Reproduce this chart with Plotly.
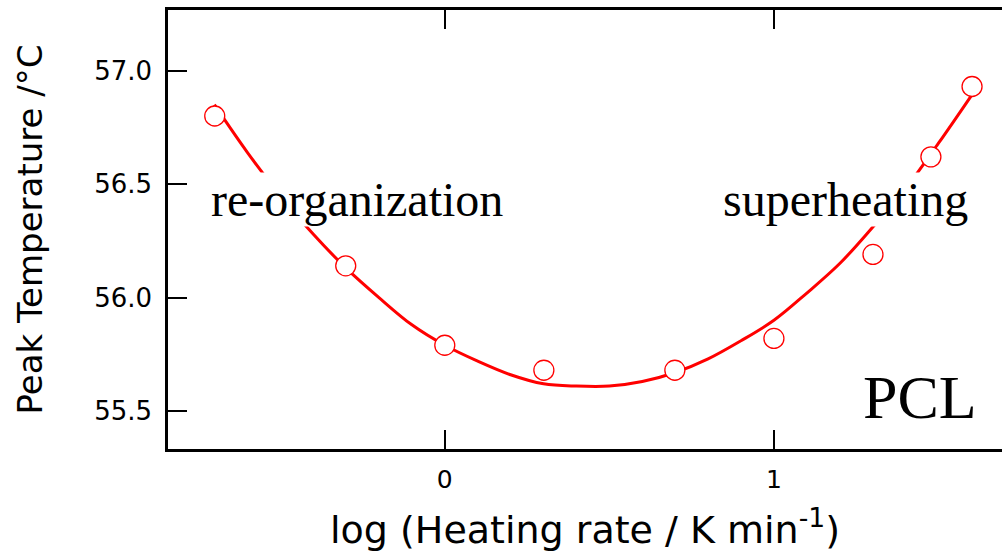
import plotly.graph_objects as go

# measured points: log10(heating rate) vs peak temperature
log_rate = [-0.699, -0.301, 0.0, 0.301, 0.699, 1.0, 1.301, 1.477, 1.602]
peak_temp = [56.80, 56.14, 55.79, 55.68, 55.68, 55.82, 56.19, 56.62, 56.93]

# fitted curve
fit_x = [-0.70, -0.60, -0.50, -0.40, -0.30, -0.20, -0.10, 0.00, 0.10, 0.20, 0.30, 0.40,
         0.50, 0.60, 0.70, 0.80, 0.90, 1.00, 1.10, 1.20, 1.30, 1.40, 1.50, 1.60]
fit_y = [56.85, 56.64, 56.45, 56.28, 56.13, 56.00, 55.88, 55.79, 55.72, 55.66, 55.62, 55.61,
         55.61, 55.63, 55.67, 55.73, 55.81, 55.90, 56.02, 56.15, 56.31, 56.48, 56.68, 56.89]

x_ticks = [0, 1]
x_ticklabels = ["0", "1"]
y_ticks = [55.5, 56.0, 56.5, 57.0]
y_ticklabels = ["55.5", "56.0", "56.5", "57.0"]

x_range = [-0.841, 1.693]
y_range = [55.333, 57.267]

RED = "#ff0000"
SANS = "DejaVu Sans"
SERIF = "Liberation Serif"

fig = go.Figure()
fig.add_trace(go.Scatter(x=fit_x, y=fit_y, mode="lines", line=dict(color=RED, width=3, shape="spline"),
                         hoverinfo="skip", showlegend=False))
fig.add_trace(go.Scatter(x=log_rate, y=peak_temp, mode="markers",
                         marker=dict(symbol="circle", size=20, color="white", line=dict(color=RED, width=1.3)),
                         showlegend=False))

fig.add_annotation(x=-0.714, y=56.43, xref="x", yref="y", text="re-organization", showarrow=False,
                   xanchor="left", yanchor="middle", bgcolor="white", borderpad=0,
                   font=dict(family=SERIF, size=48, color="black"))
fig.add_annotation(x=0.842, y=56.43, xref="x", yref="y", text="superheating", showarrow=False,
                   xanchor="left", yanchor="middle", bgcolor="white", borderpad=0,
                   font=dict(family=SERIF, size=48, color="black"))
fig.add_annotation(x=1.267, y=55.56, xref="x", yref="y", text="PCL", showarrow=False,
                   xanchor="left", yanchor="middle", borderpad=0,
                   font=dict(family=SERIF, size=62, color="black"))

fig.update_layout(
    width=1002, height=557,
    margin=dict(l=168, r=0, t=10, b=108),
    paper_bgcolor="white", plot_bgcolor="white",
    font=dict(family=SANS, color="black"),
    xaxis=dict(range=x_range, tickvals=x_ticks, ticktext=x_ticklabels, ticks="inside", ticklen=19,
               tickwidth=2, tickcolor="black", showline=True, linewidth=2.5, linecolor="black",
               mirror="allticks", showgrid=False, zeroline=False, tickfont=dict(size=25),
               ticklabelstandoff=6,
               title=dict(text="log (Heating rate / K min<sup>-1</sup>)", font=dict(size=38), standoff=24)),
    yaxis=dict(range=y_range, tickvals=y_ticks, ticktext=y_ticklabels, ticks="inside", ticklen=19,
               tickwidth=2, tickcolor="black", showline=True, linewidth=2.5, linecolor="black",
               mirror=False, showgrid=False, zeroline=False, tickfont=dict(size=26),
               ticklabelstandoff=8,
               title=dict(text="Peak Temperature /°C", font=dict(size=34), standoff=42)),
    yaxis2=dict(range=y_range, tickvals=y_ticks, overlaying="y", side="right", ticks="inside",
                ticklen=5, tickwidth=2, tickcolor="black", showline=False, showgrid=False,
                zeroline=False, showticklabels=False),
)

fig.write_html("out.html")
